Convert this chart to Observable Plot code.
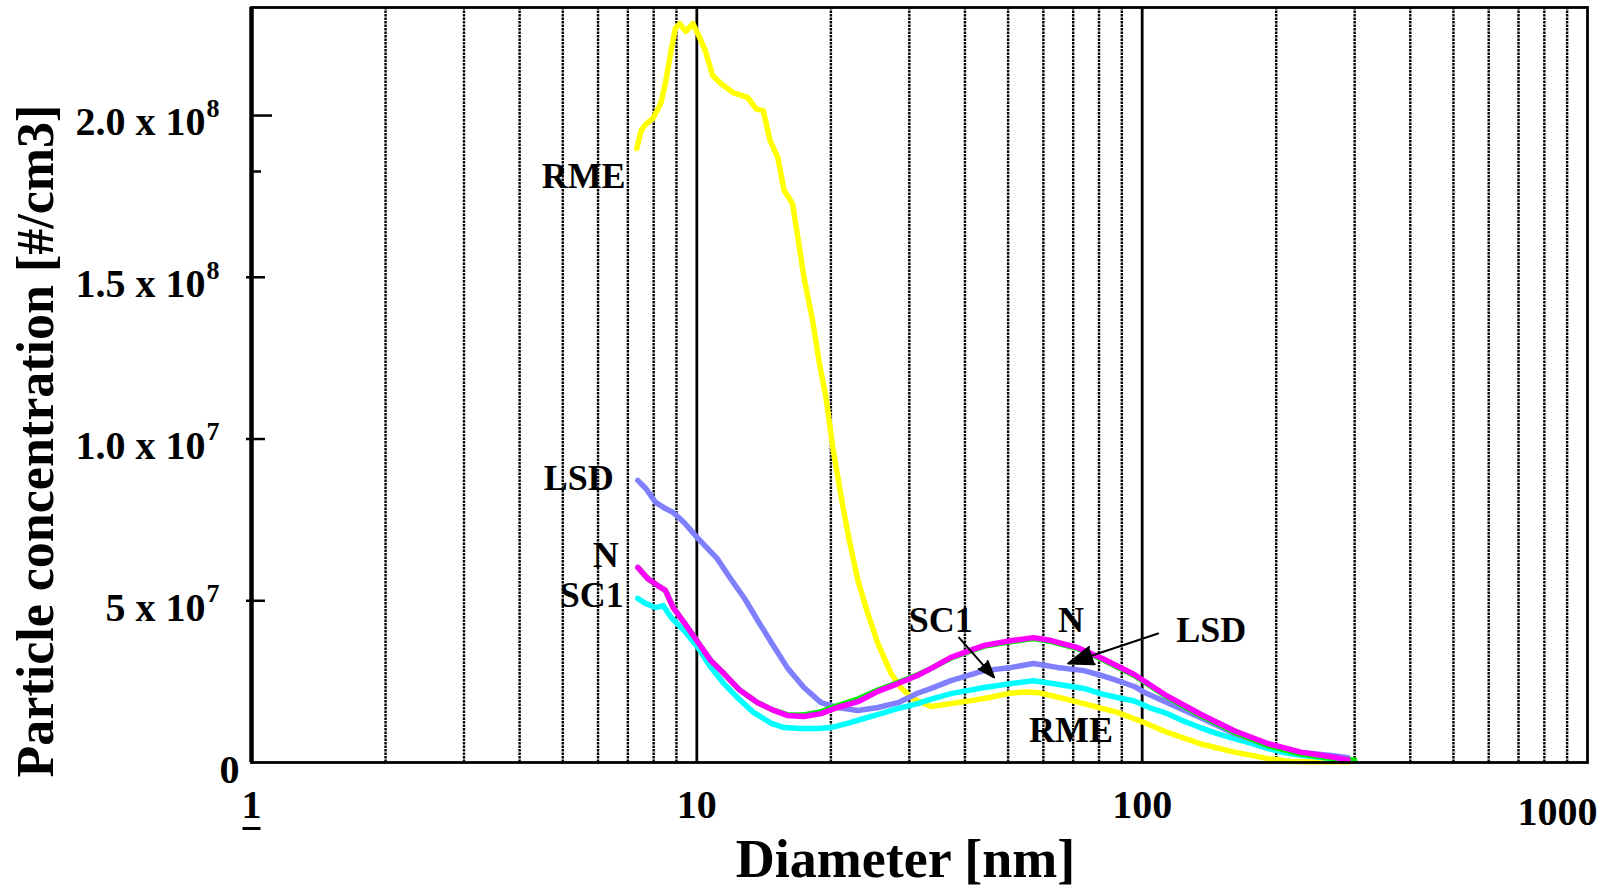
<!DOCTYPE html>
<html><head><meta charset="utf-8">
<script src="https://cdn.jsdelivr.net/npm/d3@7"></script>
<script src="https://cdn.jsdelivr.net/npm/@observablehq/plot@0.6"></script>
<style>html,body{margin:0;padding:0;background:#fff;} #chart svg{display:block;}</style>
</head><body><div id="chart"></div>
<script>
// Diameters [nm] and concentrations [million #/cm3]
const rmeD = [7.33,7.5,7.7,7.96,8.3,8.5,8.75,8.95,9.15,9.45,9.8,10.1,10.45,10.85,11.3,12.1,13.0,13.6,14.1,14.6,15.2,15.7,16.4,16.9,17.4,18.2,18.8,19.5,20.2,21.3,22.0,23.0,24.2,25.5,27.3,28.7,30.5,33.6,37.2,44.2,50,54.3,58.5,62.5,74,88,100,114,135,161,192,215,248,290];
const rmeV = [189.8,195.4,197.5,199,203.7,210,220,226.9,228.4,226,228.4,224.7,220,212.4,210,207,205.6,202,201.5,192.3,187,176.8,172.8,161.4,150,136.6,124.3,112.8,97.4,78.8,68.6,56.3,46.1,36.8,27.5,23.2,19.8,17.3,18.2,19.8,21.3,21.8,21.6,20.7,18.2,15.5,12.6,9.3,5.8,3.2,1.2,0.3,0.2,0.2];

const sc1D = [7.37,7.68,8.08,8.4,8.76,9.36,10.07,10.75,11.5,12.4,13.4,14.7,15.7,17.1,18.7,20,21.8,23.7,25.9,28.3,31.3,33.6,37.2,44.2,50.9,57,64.5,74,81,88,96,105,114,123,135,147,161,176,192,208,227,266,295];
const sc1V = [50.7,49.1,47.9,48.5,44.8,40.8,35.5,29.4,24.4,19.8,15.5,12.1,10.8,10.5,10.5,10.8,12.1,13.6,15.1,16.7,18.2,19.6,21.3,23.2,24.4,25.3,24.2,22.9,21.2,20.1,19.0,16.7,15.1,13,10.8,9,7.4,5.9,4.3,3.1,2.2,1.2,0.6];

const lsdD = [7.37,7.68,8.08,8.5,8.85,9.36,10.07,11.1,11.9,12.8,13.7,14.7,16,17.4,19,20.7,23,25.5,28.3,31.3,33.6,37.2,44.2,50.9,57,64.5,74,81,88,96,100.7,114,135,161,192,227,266,290];
const lsdV = [87.2,84.7,80.4,78.5,77.3,74.2,69.2,63.1,56.9,50.7,43.9,37.1,29.1,23.2,18.5,17,16.1,17,18.5,21.4,22.9,25.3,28.4,29.4,30.6,29.4,28.4,26.9,25.3,23.5,21.8,18.5,13.9,9,5.3,3.1,2.2,1.5];

const greenD = [7.37,7.75,8.17,8.5,8.85,9.36,10.07,10.75,11.5,12.5,13.7,14.9,16,17.4,19,20.7,23,25.5,28.3,31.3,33.6,37.2,44.2,50.9,57,62.5,71.7,81,96,114,135,161,192,227,266,300];
const greenV = [60.3,56.9,54.7,53.2,47.9,43.3,37.1,31.5,27.5,22.3,18.5,16.1,14.7,14.7,15.7,17.6,19.6,22.4,24.7,27.1,29.1,32.3,36.0,37.4,38.3,37.4,35.2,32.0,26.9,20.2,14.6,9.4,5.2,2.6,1.3,0.7];

const nD = [7.37,7.75,8.17,8.5,8.85,9.36,10.07,10.75,11.5,12.5,13.7,14.9,16,17.4,19,20.7,23,25.5,28.3,31.3,33.6,37.2,44.2,50.9,57,62.5,71.7,81,96,114,135,161,192,227,266,290];
const nV = [60.3,56.9,54.7,53.2,47.9,43.3,37.1,31.5,27.5,22.3,18.5,16.1,14.5,14.2,15.1,17,18.8,22,24.4,26.9,29.1,32.5,36.2,37.7,38.6,37.7,35.5,32.3,27.2,20.5,15,9.8,5.8,3.2,1.8,0.8];

// Axis ticks and labels
const xTicks = [1, 10, 100, 1000];
const xUnderlined = [1];
const yTicks = [0, 5e7, 1e8, 1.5e8, 2e8];
const yTickBase = ["0", "5 x 10", "1.0 x 10", "1.5 x 10", "2.0 x 10"];
const yTickExp = ["", "7", "7", "8", "8"];
const yMinorTick = [1.827e8];
const dottedGrid = [2,3,4,5,6,7,8,9,20,30,40,50,60,70,80,90,200,300,400,500,600,700,800,900];
const solidGrid = [10, 100];

// Curve annotations
const leftLabelText = ["RME", "LSD", "N", "SC1"];
const leftLabelX = [6.92, 6.51, 6.68, 6.85];
const leftLabelY = [181.1e6, 87.8e6, 64.0e6, 51.6e6];
const inLabelText = ["SC1", "N", "LSD", "RME"];
const inLabelX = [29.9, 64.7, 119.2, 55.7];
const inLabelY = [43.9e6, 43.9e6, 40.8e6, 9.9e6];
const arrowFrom = [[38.8, 38.6e6], [108.6, 39.9e6]];
const arrowTo = [[46.5, 26.3e6], [68.2, 30.6e6]];

const toRows = (D, V) => D.map((d, i) => ({d, v: V[i] * 1e6}));
const yTickRows = yTicks.map((v, i) => ({v, base: yTickBase[i], exp: yTickExp[i]}));
const leftLabels = leftLabelText.map((t, i) => ({t, x: leftLabelX[i], y: leftLabelY[i]}));
const inLabels = inLabelText.map((t, i) => ({t, x: inLabelX[i], y: inLabelY[i]}));
const arrows = arrowFrom.map((f, i) => ({x1: f[0], y1: f[1], x2: arrowTo[i][0], y2: arrowTo[i][1]}));

const font = "Liberation Serif, Times New Roman, serif";
const lw = 5.5;
const lineOpts = (c) => ({x: "d", y: "v", stroke: c, strokeWidth: lw, strokeLinejoin: "round", strokeLinecap: "round"});
const barSymbol = {draw(ctx) { ctx.moveTo(-9, 0); ctx.lineTo(9, 0); }};

const chart = Plot.plot({
  width: 1608, height: 887,
  marginLeft: 251, marginRight: 21, marginTop: 7, marginBottom: 125,
  x: {type: "log", domain: [1, 1000], axis: null},
  y: {domain: [0, 2.334e8], axis: null},
  style: {fontFamily: font, fontWeight: "bold", background: "white", color: "black"},
  marks: [
    Plot.ruleX(dottedGrid, {stroke: "black", strokeWidth: 2.4, strokeDasharray: "2.4,1.1"}),
    Plot.ruleX(solidGrid, {stroke: "black", strokeWidth: 2.8}),
    Plot.line(toRows(rmeD, rmeV), lineOpts("#ffff00")),
    Plot.line(toRows(sc1D, sc1V), lineOpts("#00ffff")),
    Plot.line(toRows(lsdD, lsdV), lineOpts("#8080ff")),
    Plot.line(toRows(greenD, greenV), lineOpts("#00ee00")),
    Plot.line(toRows(nD, nV), lineOpts("#ff00ff")),
    Plot.frame({stroke: "black", strokeWidth: 2.8}),
    Plot.ruleX([1], {stroke: "black", strokeWidth: 4.5}),
    Plot.axisY(yTicks.slice(1, 4), {anchor: "left", tickSize: 5, tickFormat: () => "", label: null, strokeWidth: 2.5}),
    Plot.axisY(yTicks.slice(1, 4), {anchor: "left", tickSize: -14, tickFormat: () => "", label: null, strokeWidth: 2.5}),
    Plot.axisY(yTicks.slice(4), {anchor: "left", tickSize: -21, tickFormat: () => "", label: null, strokeWidth: 2.5}),
    Plot.axisY(yMinorTick, {anchor: "left", tickSize: -10, tickFormat: () => "", label: null, strokeWidth: 2.5}),
    Plot.text(yTickRows.filter(r => r.v > 0), {y: "v", text: "base", frameAnchor: "left", textAnchor: "end", dx: -46, dy: 7, fontSize: 40}),
    Plot.text(yTickRows.filter(r => r.v > 0), {y: "v", text: "exp", frameAnchor: "left", textAnchor: "start", dx: -45, dy: -7, fontSize: 26}),
    Plot.text(yTickRows.filter(r => r.v === 0), {y: "v", text: "base", frameAnchor: "left", textAnchor: "end", dx: -12, dy: 8, fontSize: 40}),
    Plot.text(xTicks.filter(t => t < 1000), {x: d => d, text: d => String(d), frameAnchor: "bottom", dy: 55, fontSize: 40}),
    Plot.dot(xUnderlined, {x: d => d, frameAnchor: "bottom", dy: 66, symbol: barSymbol, stroke: "black", strokeWidth: 3, fill: "none"}),
    Plot.text(xTicks.filter(t => t >= 1000), {x: d => d, text: d => String(d), frameAnchor: "bottom", dy: 62, dx: -30, fontSize: 40}),
    Plot.text(["Diameter [nm]"], {frameAnchor: "bottom", textAnchor: "middle", dx: -14, dy: 114, fontSize: 54}),
    Plot.text(["Particle concentration [#/cm3]"], {frameAnchor: "left", textAnchor: "middle", rotate: -90, dx: -215, dy: 56, fontSize: 52}),
    Plot.text(leftLabels, {x: "x", y: "y", text: "t", textAnchor: "end", fontSize: 36}),
    Plot.text(inLabels, {x: "x", y: "y", text: "t", textAnchor: "start", fontSize: 36}),
    Plot.arrow(arrows, {x1: "x1", y1: "y1", x2: "x2", y2: "y2", stroke: "black", fill: "black", strokeWidth: 2, headLength: 20, headAngle: 40})
  ]
});
document.getElementById("chart").appendChild(chart);
</script>
</body></html>
